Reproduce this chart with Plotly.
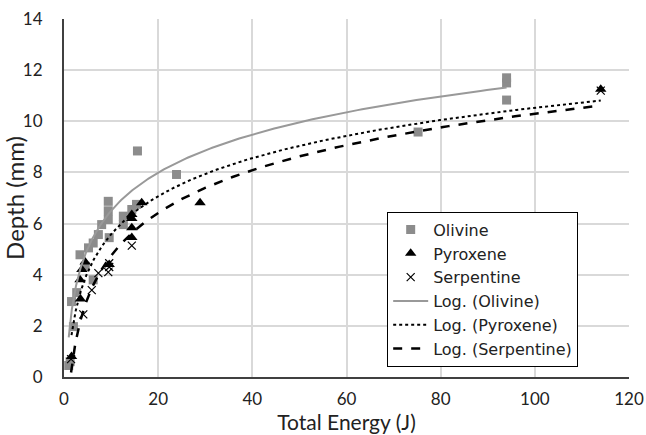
import numpy as np
import plotly.graph_objects as go

# Data
olivine_e = [1.0, 1.3, 1.6, 2.0, 2.7, 3.4, 4.5, 5.2, 6.2, 6.2, 7.3, 8.0, 9.4, 9.4, 9.4, 9.6,
             12.6, 12.6, 14.4, 15.4, 15.6, 23.9, 75.2, 94.0, 94.0, 94.0]
olivine_d = [0.45, 0.6, 2.95, 1.97, 3.3, 4.78, 4.33, 5.05, 5.24, 3.8, 5.57, 5.96, 6.87, 6.5, 6.16, 5.45,
             6.29, 5.96, 6.55, 6.75, 8.84, 7.92, 9.58, 10.83, 11.5, 11.7]

pyroxene_e = [1.6, 3.5, 3.4, 3.8, 4.5, 9.6, 14.4, 14.4, 14.4, 14.4, 16.5, 28.9, 114.0]
pyroxene_d = [0.8, 3.05, 3.8, 4.2, 4.5, 4.4, 5.46, 5.84, 6.2, 6.35, 6.81, 6.81, 11.25]

serpentine_e = [1.5, 4.1, 5.9, 7.3, 9.4, 9.6, 9.6, 14.4, 114.0]
serpentine_d = [0.7, 2.45, 3.4, 4.06, 4.1, 4.3, 4.45, 5.14, 11.2]

# Logarithmic trendline coefficients (depth = a*ln(E) + b)
trend_names = ["Log. (Olivine)", "Log. (Pyroxene)", "Log. (Serpentine)"]
trend_a = [2.15, 2.15, 2.41]
trend_b = [1.55, 0.63, -0.80]

x_ticks = [0, 20, 40, 60, 80, 100, 120]
y_ticks = [0, 2, 4, 6, 8, 10, 12, 14]

FONT = "Lato"

fig = go.Figure()

fig.add_trace(go.Scatter(x=olivine_e, y=olivine_d, mode="markers", name="Olivine",
                         marker=dict(symbol="square", size=9, color="#8c8c8c")))
fig.add_trace(go.Scatter(x=pyroxene_e, y=pyroxene_d, mode="markers", name="Pyroxene",
                         marker=dict(symbol="triangle-up", size=10, color="black")))
fig.add_trace(go.Scatter(x=serpentine_e, y=serpentine_d, mode="markers", name="Serpentine",
                         marker=dict(symbol="x-thin", size=8, color="black",
                                     line=dict(width=1.2, color="black"))))

series_e = [olivine_e, pyroxene_e, serpentine_e]
line_styles = [dict(color="#999999", width=2),
               dict(color="black", width=2, dash="dot"),
               dict(color="black", width=2.5, dash="dash")]
for name, a, b, e, st in zip(trend_names, trend_a, trend_b, series_e, line_styles):
    xs = np.geomspace(min(e), max(e), 300)
    fig.add_trace(go.Scatter(x=xs, y=a * np.log(xs) + b, mode="lines", name=name, line=st))

fig.update_layout(
    width=646, height=435,
    margin=dict(l=64, r=17, t=19, b=58),
    paper_bgcolor="white", plot_bgcolor="white",
    font=dict(family=FONT, size=17, color="#222222"),
    showlegend=True,
    legend=dict(x=0.572, y=0.462, xanchor="left", yanchor="top",
                bgcolor="white", bordercolor="black", borderwidth=1,
                font=dict(family="DejaVu Sans", size=16, color="#222222"),
                tracegroupgap=0, itemwidth=35),
)

fig.update_xaxes(range=[0, 120], tickvals=x_ticks, showgrid=True, gridcolor="#d9d9d9", gridwidth=2,
                 zeroline=False, showline=True, linecolor="#404040", linewidth=2,
                 ticks="", tickfont=dict(size=17), ticklabelstandoff=6, automargin=False,
                 title=dict(text="Total Energy (J)", font=dict(size=21), standoff=4))
fig.update_yaxes(range=[0, 14], tickvals=y_ticks, showgrid=True, gridcolor="#d9d9d9", gridwidth=2,
                 zeroline=False, showline=True, linecolor="#404040", linewidth=2,
                 ticks="", tickfont=dict(size=17), ticklabelstandoff=16, automargin=False,
                 title=dict(text="Depth (mm)", font=dict(size=24), standoff=2))

fig.write_html("out.html")
